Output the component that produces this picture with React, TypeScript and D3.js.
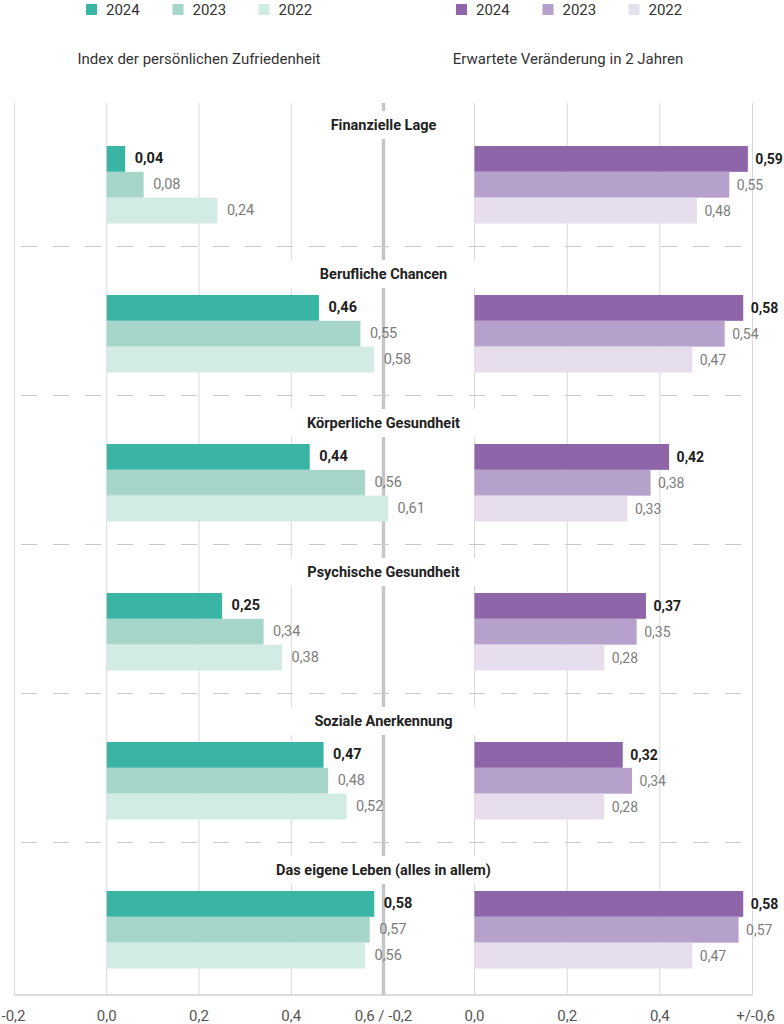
import React from "react";
import * as d3 from "d3";

const categories = [
  "Finanzielle Lage",
  "Berufliche Chancen",
  "Körperliche Gesundheit",
  "Psychische Gesundheit",
  "Soziale Anerkennung",
  "Das eigene Leben (alles in allem)",
];
const years = ["2024", "2023", "2022"];

// Index der persönlichen Zufriedenheit
const satisfaction2024 = [0.04, 0.46, 0.44, 0.25, 0.47, 0.58];
const satisfaction2023 = [0.08, 0.55, 0.56, 0.34, 0.48, 0.57];
const satisfaction2022 = [0.24, 0.58, 0.61, 0.38, 0.52, 0.56];

// Erwartete Veränderung in 2 Jahren
const change2024 = [0.59, 0.58, 0.42, 0.37, 0.32, 0.58];
const change2023 = [0.55, 0.54, 0.38, 0.35, 0.34, 0.57];
const change2022 = [0.48, 0.47, 0.33, 0.28, 0.28, 0.47];

const leftColors = ["#3ab5a4", "#a6d6c9", "#d2ebe4"];
const rightColors = ["#8e65a9", "#b6a1cd", "#e6deec"];
const rightLegendColors = ["#8e65a9", "#b6a1cd", "#e3e2ea"];

const leftTicks = [-0.2, 0, 0.2, 0.4];
const rightTicks = [0, 0.2, 0.4, 0.6];
const tickLabels = ["-0,2", "0,0", "0,2", "0,4", "0,6 / -0,2", "0,0", "0,2", "0,4", "+/-0,6"];

const FONT = "Roboto, 'Open Sans', sans-serif";

const fmt = (v: number) => v.toFixed(2).replace(".", ",");

export default function App() {
  const W = 784;
  const H = 1024;
  const top = 103;
  const bottom = 995;

  const xL = d3.scaleLinear().domain([-0.2, 0.6]).range([14.5, 383.5]);
  const xR = d3.scaleLinear().domain([0, 0.6]).range([474.5, 752.5]);
  const centerX = xL(0.6);

  const yGroup = d3.scaleBand<string>().domain(categories).range([97.5, 991.5]).paddingInner(0).paddingOuter(0);
  const yYear = d3.scaleBand<string>().domain(years).range([0, 77.5]);

  const leftSeries = [satisfaction2024, satisfaction2023, satisfaction2022];
  const rightSeries = [change2024, change2023, change2022];

  const tickPositions = [
    ...leftTicks.map((t) => xL(t)),
    centerX,
    ...rightTicks.map((t) => xR(t)),
  ];

  const barOffset = 48.5;
  const titleOffset = 27.5;
  const labelGapL = 9.5;
  const labelGapR = 7.5;

  const measure = (s: string) => {
    if (typeof document === "undefined") return s.length * 7;
    const c = document.createElement("canvas").getContext("2d");
    if (!c) return s.length * 7;
    c.font = `bold 14.5px ${FONT}`;
    return c.measureText(s).width;
  };

  return (
    <svg width={W} height={H} style={{ position: "absolute", left: 0, top: 0, background: "#fff" }} fontFamily={FONT}>
      <rect x={0} y={0} width={W} height={H} fill="#fff" />

      {/* Legends */}
      {years.map((yr, i) => {
        const sx = [86, 172.5, 258.5][i];
        return (
          <g key={"ll" + yr}>
            <rect x={sx} y={4} width={11} height={11} fill={leftColors[i]} />
            <text x={sx + 20} y={9.5} dominantBaseline="central" fontSize={15} fill="#333">
              {yr}
            </text>
          </g>
        );
      })}
      {years.map((yr, i) => {
        const sx = [456, 542.5, 628.5][i];
        return (
          <g key={"rl" + yr}>
            <rect x={sx} y={4} width={11} height={11} fill={rightLegendColors[i]} />
            <text x={sx + 20} y={9.5} dominantBaseline="central" fontSize={15} fill="#333">
              {yr}
            </text>
          </g>
        );
      })}

      {/* Panel titles */}
      <text x={(xL(-0.2) + xL(0.6)) / 2} y={59} textAnchor="middle" dominantBaseline="central" fontSize={15} fill="#333">
        Index der persönlichen Zufriedenheit
      </text>
      <text x={(centerX + xR(0.6)) / 2} y={59} textAnchor="middle" dominantBaseline="central" fontSize={15} fill="#333">
        Erwartete Veränderung in 2 Jahren
      </text>

      {/* Gridlines */}
      {leftTicks.map((t) => (
        <line key={"gl" + t} x1={xL(t)} x2={xL(t)} y1={top} y2={bottom} stroke="#d8d8d8" strokeWidth={1} />
      ))}
      {rightTicks.map((t) => (
        <line key={"gr" + t} x1={xR(t)} x2={xR(t)} y1={top} y2={bottom} stroke="#d8d8d8" strokeWidth={1} />
      ))}
      <line x1={centerX} x2={centerX} y1={top} y2={bottom} stroke="#c6c6c6" strokeWidth={3.5} />
      <line x1={xL(-0.2)} x2={xR(0.6)} y1={bottom} y2={bottom} stroke="#cfcfcf" strokeWidth={1.5} />

      {/* Separators */}
      {categories.slice(1).map((c) => (
        <line
          key={"sep" + c}
          x1={21}
          x2={747}
          y1={yGroup(c)!}
          y2={yGroup(c)!}
          stroke="#cacaca"
          strokeWidth={1.2}
          strokeDasharray="16 16"
        />
      ))}

      {/* Category titles with mask */}
      {categories.map((c) => {
        const w = measure(c) + 60;
        const cy = yGroup(c)! + titleOffset;
        return (
          <g key={"t" + c}>
            <rect x={centerX - w / 2} y={cy - 14} width={w} height={28} fill="#fff" />
            <text x={centerX} y={cy} textAnchor="middle" dominantBaseline="central" fontSize={14.5} fontWeight="bold" fill="#222">
              {c}
            </text>
          </g>
        );
      })}

      {/* Bars */}
      {categories.map((c, ci) => {
        const g0 = yGroup(c)! + barOffset;
        return (
          <g key={"b" + c}>
            {years.map((yr, yi) => {
              const v = leftSeries[yi][ci];
              const y = g0 + yYear(yr)!;
              return (
                <rect key={"lb" + yr} x={xL(0)} y={y} width={xL(v) - xL(0)} height={yYear.bandwidth()} fill={leftColors[yi]} />
              );
            })}
            {years.map((yr, yi) => {
              const v = rightSeries[yi][ci];
              const y = g0 + yYear(yr)!;
              return (
                <rect key={"rb" + yr} x={xR(0)} y={y} width={xR(v) - xR(0)} height={yYear.bandwidth()} fill={rightColors[yi]} />
              );
            })}
          </g>
        );
      })}

      {/* Value labels */}
      {categories.map((c, ci) => {
        const g0 = yGroup(c)! + barOffset;
        return (
          <g key={"v" + c}>
            {years.map((yr, yi) => {
              const v = leftSeries[yi][ci];
              const y = g0 + yYear(yr)! + yYear.bandwidth() / 2;
              return (
                <text
                  key={"lv" + yr}
                  x={xL(v) + labelGapL}
                  y={y}
                  dominantBaseline="central"
                  fontSize={14.5}
                  fontWeight={yi === 0 ? "bold" : "normal"}
                  fill={yi === 0 ? "#1e1e1e" : "#7d7d7d"}
                >
                  {fmt(v)}
                </text>
              );
            })}
            {years.map((yr, yi) => {
              const v = rightSeries[yi][ci];
              const y = g0 + yYear(yr)! + yYear.bandwidth() / 2;
              return (
                <text
                  key={"rv" + yr}
                  x={xR(v) + labelGapR}
                  y={y}
                  dominantBaseline="central"
                  fontSize={14}
                  fontWeight={yi === 0 ? "bold" : "normal"}
                  fill={yi === 0 ? "#1e1e1e" : "#7d7d7d"}
                >
                  {fmt(v)}
                </text>
              );
            })}
          </g>
        );
      })}

      {/* Tick labels */}
      {tickPositions.map((x, i) => (
        <text key={"tk" + i} x={i === 0 ? x - 1 : i === 8 ? x + 3 : x} y={1016} textAnchor="middle" dominantBaseline="central" fontSize={15} fill="#555">
          {tickLabels[i]}
        </text>
      ))}
    </svg>
  );
}
